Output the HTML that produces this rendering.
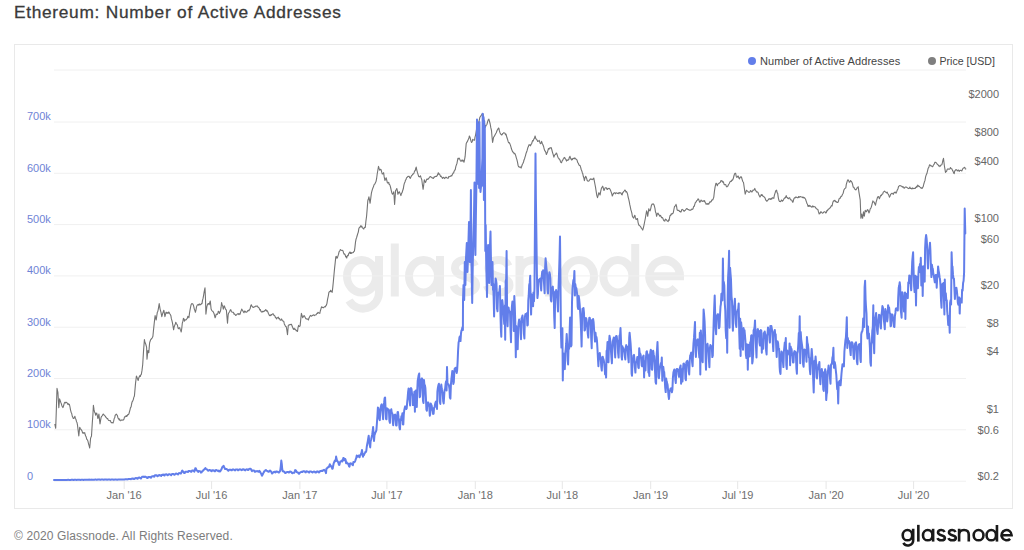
<!DOCTYPE html>
<html><head><meta charset="utf-8"><title>Ethereum: Number of Active Addresses</title>
<style>
html,body{margin:0;padding:0;background:#fff;}
body{width:1024px;height:550px;position:relative;overflow:hidden;font-family:"Liberation Sans",sans-serif;}
.title{position:absolute;left:14px;top:1.4px;font-size:17.3px;line-height:22px;color:#3a3a3a;white-space:nowrap;letter-spacing:0.7px;word-spacing:0.2px;-webkit-text-stroke:0.3px #3a3a3a;}
.box{position:absolute;left:14px;top:44px;width:999px;height:465px;border:1px solid #e9e9e9;box-sizing:border-box;}
svg{position:absolute;left:0;top:0;}
.xl{position:absolute;top:488px;width:60px;text-align:center;font-size:11px;line-height:14px;color:#6e6e6e;white-space:nowrap;}
.yl{position:absolute;left:27px;font-size:11px;line-height:14px;color:#6f83d6;white-space:nowrap;}
.yr{position:absolute;right:25px;font-size:11px;line-height:14px;color:#666;text-align:right;white-space:nowrap;}
.lg{position:absolute;top:53.6px;font-size:11px;line-height:14px;color:#444;white-space:nowrap;letter-spacing:0.08px;}
.dot{position:absolute;width:8px;height:8px;border-radius:50%;top:57px;}
.wm{position:absolute;left:342.4px;top:226.4px;font-size:72px;line-height:88px;color:#ebebeb;letter-spacing:2.1px;white-space:nowrap;-webkit-text-stroke:1.1px #ebebeb;}
.foot{position:absolute;left:14px;top:528px;font-size:12px;line-height:16px;color:#7c7c7c;white-space:nowrap;letter-spacing:0.12px;}
.logo{position:absolute;right:11.5px;top:516px;font-size:24px;line-height:32px;color:#1b1b1b;white-space:nowrap;letter-spacing:0.2px;-webkit-text-stroke:0.5px #1b1b1b;}
</style></head><body>
<div class="title">Ethereum: Number of Active Addresses</div>
<div class="box"></div>
<svg width="1024" height="550" viewBox="0 0 1024 550">
<g fill="none" stroke-width="8" stroke="#ebebeb">
<ellipse cx="361.5" cy="276.25" rx="14.5" ry="16.25"/><path d="M379,256 V292 A16,16 0 0 1 349.1,300.5"/>
<path d="M394.8,243.5 V296.5"/>
<ellipse cx="423.5" cy="276.25" rx="14.5" ry="16.25"/><path d="M440,256 V296.5"/>
<path d="M475,266 C473,261.5 469,260 465,260 C459,260 455,263.5 455,268 C455,273 459,274.8 465,276.3 C471,277.8 476,280 476,285 C476,289.5 471.5,292.5 465,292.5 C459.5,292.5 455,290 453.5,285.5"/>
<path transform="translate(33.5,0)" d="M475,266 C473,261.5 469,260 465,260 C459,260 455,263.5 455,268 C455,273 459,274.8 465,276.3 C471,277.8 476,280 476,285 C476,289.5 471.5,292.5 465,292.5 C459.5,292.5 455,290 453.5,285.5"/>
<path d="M519.5,256 V296.5 M519.5,275 C519.5,265 526,260 534.5,260 C543,260 549,265 549,275 V296.5"/>
<ellipse cx="579" cy="276.25" rx="15" ry="16.25"/>
<ellipse cx="617.9" cy="276.25" rx="14.5" ry="16.25"/><path d="M635.2,244 V296.5"/>
<path d="M649.3,276.25 H680 A15.35,16.25 0 1 0 675.5,287.7"/>
</g>
<g stroke="#f0f0f0" stroke-width="1"><line x1="54" x2="966" y1="70.0" y2="70.0"/><line x1="54" x2="966" y1="122.0" y2="122.0"/><line x1="54" x2="966" y1="173.3" y2="173.3"/><line x1="54" x2="966" y1="224.6" y2="224.6"/><line x1="54" x2="966" y1="275.9" y2="275.9"/><line x1="54" x2="966" y1="327.2" y2="327.2"/><line x1="54" x2="966" y1="378.5" y2="378.5"/><line x1="54" x2="966" y1="429.8" y2="429.8"/><line x1="54" x2="966" y1="481.2" y2="481.2"/></g>
<g stroke="#e6e6e6" stroke-width="1"><line x1="124.2" x2="124.2" y1="481.2" y2="489"/><line x1="211.6" x2="211.6" y1="481.2" y2="489"/><line x1="299.9" x2="299.9" y1="481.2" y2="489"/><line x1="386.9" x2="386.9" y1="481.2" y2="489"/><line x1="475.3" x2="475.3" y1="481.2" y2="489"/><line x1="562.3" x2="562.3" y1="481.2" y2="489"/><line x1="650.7" x2="650.7" y1="481.2" y2="489"/><line x1="737.7" x2="737.7" y1="481.2" y2="489"/><line x1="826.1" x2="826.1" y1="481.2" y2="489"/><line x1="913.6" x2="913.6" y1="481.2" y2="489"/></g>
<path d="M54.8,424.0 L55.7,428.3 L56.4,407.9 L57.0,388.4 L57.9,392.3 L58.8,407.6 L59.6,398.9 L60.2,400.6 L60.7,402.2 L61.3,403.6 L61.8,405.4 L62.4,406.7 L62.9,407.6 L63.4,406.5 L64.0,404.1 L64.5,402.6 L65.1,402.2 L65.6,403.0 L66.2,402.3 L66.7,402.5 L67.3,403.2 L67.8,404.4 L68.3,403.7 L68.9,404.7 L69.4,404.3 L70.0,407.0 L70.5,409.8 L71.1,412.2 L71.7,413.5 L72.3,416.3 L72.8,417.3 L73.3,418.5 L73.8,418.5 L74.4,417.5 L74.9,416.3 L75.4,418.4 L76.0,419.6 L76.5,421.7 L77.0,422.5 L77.5,425.1 L78.2,431.0 L78.8,436.0 L79.7,427.2 L80.3,428.5 L81.0,429.4 L81.5,430.2 L82.0,430.8 L82.5,432.7 L83.1,433.3 L83.6,432.6 L84.2,433.1 L84.7,432.7 L85.2,434.8 L85.7,436.0 L86.2,437.1 L86.8,439.3 L87.4,439.8 L88.0,441.4 L88.6,444.1 L89.1,445.7 L89.7,448.0 L90.6,438.1 L91.5,436.0 L92.3,422.9 L92.9,414.9 L93.4,405.4 L94.0,409.4 L94.5,412.0 L95.1,412.9 L95.6,415.2 L96.2,413.5 L96.7,413.1 L97.3,415.3 L97.8,418.5 L98.3,417.2 L98.9,414.1 L99.4,418.9 L100.0,424.0 L100.5,420.9 L101.1,417.4 L101.6,416.3 L102.2,415.8 L102.7,414.8 L103.2,414.1 L103.8,414.4 L104.3,415.4 L104.9,415.9 L105.4,416.3 L106.0,417.6 L106.5,417.8 L107.1,418.7 L107.6,418.5 L108.2,419.7 L108.7,420.5 L109.2,420.5 L109.8,420.7 L110.3,420.5 L110.9,422.1 L111.4,422.6 L112.0,422.9 L112.5,422.6 L113.1,422.9 L113.6,421.4 L114.2,418.5 L114.7,417.8 L115.2,415.2 L115.8,414.8 L116.3,414.1 L116.9,414.9 L117.4,415.5 L118.0,418.1 L118.5,418.5 L119.1,419.9 L119.6,418.9 L120.2,420.7 L120.7,420.7 L121.2,420.4 L121.8,419.9 L122.3,420.0 L122.9,420.3 L123.4,419.9 L124.0,419.2 L124.5,416.8 L125.1,416.8 L125.6,416.8 L126.2,415.5 L126.7,416.5 L127.2,415.9 L127.8,414.6 L128.3,414.6 L128.9,413.8 L129.4,412.0 L130.0,409.8 L130.5,407.6 L131.1,406.9 L131.6,404.0 L132.1,401.9 L132.7,401.1 L133.3,399.6 L133.9,397.0 L134.4,396.3 L135.0,389.4 L135.5,383.6 L136.4,376.0 L137.0,377.3 L137.6,379.1 L138.2,380.4 L138.7,378.1 L139.2,377.1 L139.8,375.6 L140.3,376.5 L140.8,374.8 L141.3,374.5 L142.0,370.4 L142.7,364.7 L143.5,351.6 L144.4,339.6 L145.0,342.5 L145.7,344.0 L146.6,347.2 L147.0,359.2 L147.9,350.5 L148.8,352.7 L149.6,342.9 L150.2,341.0 L150.7,339.6 L151.3,339.0 L151.8,338.5 L152.4,337.5 L152.9,336.3 L153.4,331.1 L154.0,325.4 L154.5,320.7 L155.1,315.6 L155.6,317.9 L156.2,320.0 L156.7,316.4 L157.3,312.3 L157.8,311.5 L158.3,309.1 L159.2,303.6 L160.1,309.1 L161.0,312.3 L161.8,316.7 L162.7,313.4 L163.3,311.8 L163.8,310.2 L164.4,313.3 L164.9,316.7 L165.4,314.9 L166.0,312.3 L166.5,312.4 L167.1,313.4 L167.7,312.6 L168.2,313.3 L168.8,311.9 L169.3,312.8 L169.8,313.7 L170.3,314.5 L170.9,315.8 L171.4,318.9 L172.0,320.9 L172.5,323.2 L173.1,326.7 L173.6,329.8 L174.2,326.7 L174.7,325.4 L175.3,324.0 L175.8,322.2 L176.3,323.5 L176.9,324.3 L177.4,325.0 L177.9,327.5 L178.4,328.7 L179.1,328.1 L179.7,327.6 L180.2,329.4 L180.7,330.3 L181.2,332.0 L181.8,328.0 L182.3,323.2 L182.9,321.3 L183.4,318.4 L184.0,318.9 L184.5,321.1 L185.1,319.7 L185.6,320.0 L186.2,319.8 L186.7,318.9 L187.3,318.4 L187.8,316.3 L188.3,316.6 L188.9,317.8 L189.4,313.9 L190.0,310.2 L190.5,307.6 L191.1,304.7 L191.6,303.8 L192.2,303.6 L192.7,303.9 L193.2,304.7 L193.8,306.6 L194.3,309.1 L194.9,310.5 L195.4,312.3 L196.0,309.8 L196.5,306.9 L197.1,305.4 L197.6,304.7 L198.2,304.5 L198.7,305.2 L199.2,303.9 L199.8,304.7 L200.3,304.6 L200.9,304.6 L201.4,303.6 L202.0,303.6 L202.5,300.4 L203.1,298.2 L203.6,295.4 L204.2,291.6 L205.0,287.9 L205.5,299.3 L205.9,314.1 L206.8,306.9 L207.4,304.8 L208.1,303.6 L208.6,303.6 L209.2,304.7 L209.7,302.7 L210.3,301.0 L211.1,309.1 L211.8,310.5 L212.4,311.2 L212.9,311.3 L213.5,312.4 L214.0,313.4 L214.5,315.3 L215.1,317.8 L215.6,316.5 L216.2,314.1 L216.7,314.2 L217.2,314.5 L217.8,313.5 L218.3,311.2 L218.9,311.7 L219.4,313.4 L220.0,312.1 L220.5,311.2 L221.1,307.2 L221.6,302.5 L222.1,304.9 L222.7,305.8 L223.3,309.1 L224.2,305.8 L224.9,307.3 L225.5,309.1 L226.4,310.2 L226.9,316.2 L227.5,323.2 L228.2,314.5 L228.7,312.8 L229.2,312.3 L229.7,311.5 L230.3,310.0 L230.8,309.7 L231.3,311.2 L231.9,312.1 L232.5,312.3 L233.1,312.2 L233.6,312.8 L234.1,314.2 L234.7,314.1 L235.2,314.7 L235.7,315.4 L236.2,315.2 L236.8,314.5 L237.4,313.8 L238.0,314.1 L238.5,313.7 L239.1,314.6 L239.6,313.7 L240.1,314.1 L240.6,312.1 L241.2,310.6 L241.7,309.1 L242.2,309.9 L242.8,310.8 L243.4,311.9 L244.0,312.7 L244.5,311.3 L245.0,311.0 L245.6,311.9 L246.1,312.4 L246.7,311.9 L247.2,311.8 L247.8,310.6 L248.4,310.2 L248.9,310.8 L249.5,309.7 L250.1,308.8 L250.7,305.9 L251.3,304.7 L251.9,306.2 L252.6,306.9 L253.2,307.5 L253.7,307.2 L254.3,306.9 L254.9,306.8 L255.4,306.2 L256.0,306.1 L256.5,306.2 L257.0,306.1 L257.6,306.1 L258.1,307.4 L258.7,307.6 L259.2,308.1 L259.8,310.0 L260.3,309.5 L260.9,311.2 L261.4,312.0 L262.0,311.6 L262.5,312.0 L263.0,311.2 L263.6,311.7 L264.1,311.4 L264.7,310.6 L265.2,310.2 L265.8,309.6 L266.3,311.1 L266.9,310.4 L267.4,311.2 L267.9,312.0 L268.5,313.7 L269.0,314.6 L269.6,315.6 L270.2,315.1 L270.8,315.7 L271.3,314.5 L271.9,314.6 L272.4,314.0 L273.0,313.8 L273.5,314.1 L274.0,315.5 L274.5,315.5 L275.0,316.3 L275.5,317.7 L276.1,317.7 L276.6,318.9 L277.1,317.8 L277.7,317.8 L278.3,317.1 L278.9,318.7 L279.5,318.4 L280.1,320.0 L280.6,320.1 L281.1,320.0 L281.6,318.9 L282.2,320.2 L282.7,320.9 L283.3,321.1 L283.8,321.5 L284.3,323.9 L284.9,325.0 L285.5,326.4 L286.2,326.5 L286.8,329.7 L287.5,334.6 L288.3,325.4 L289.0,324.8 L289.6,325.0 L290.2,324.4 L290.8,324.6 L291.4,324.3 L292.0,325.7 L292.6,327.2 L293.1,328.7 L293.6,329.4 L294.2,328.2 L294.7,329.4 L295.2,329.1 L295.7,329.7 L296.2,330.9 L296.8,330.5 L297.5,331.5 L298.0,327.7 L298.6,325.4 L299.1,326.4 L299.6,326.4 L300.1,325.9 L300.8,318.9 L301.4,313.4 L302.1,315.6 L302.7,317.8 L303.4,316.4 L304.1,315.6 L304.6,316.2 L305.1,317.2 L305.6,318.4 L306.1,318.9 L306.6,318.9 L307.1,318.9 L307.8,319.2 L308.4,320.0 L308.9,318.2 L309.4,317.2 L309.9,316.3 L310.5,315.4 L311.0,316.0 L311.6,316.2 L312.1,315.6 L312.7,315.4 L313.2,314.9 L313.8,315.0 L314.3,315.6 L314.8,315.0 L315.4,315.0 L315.9,315.0 L316.5,314.1 L317.0,313.3 L317.5,313.5 L318.0,312.3 L318.6,312.9 L319.2,313.0 L319.8,313.4 L320.3,311.0 L320.9,309.1 L321.5,306.9 L322.0,307.5 L322.5,307.2 L323.0,307.6 L323.6,307.7 L324.1,307.1 L324.7,306.6 L325.2,306.9 L325.8,305.9 L326.4,305.1 L326.9,303.6 L327.6,299.1 L328.3,296.0 L328.9,292.3 L329.5,291.5 L330.1,291.6 L330.7,290.3 L331.2,291.7 L331.7,291.4 L332.2,292.3 L332.8,287.1 L333.4,281.0 L334.0,274.5 L334.6,268.1 L335.2,262.6 L335.8,256.7 L336.3,256.4 L336.8,258.1 L337.3,258.0 L337.9,256.1 L338.5,254.4 L339.1,251.6 L339.7,251.1 L340.4,249.6 L340.9,250.1 L341.4,250.4 L341.9,250.3 L342.4,250.3 L343.0,250.9 L343.6,253.0 L344.2,254.2 L344.7,254.0 L345.2,255.0 L345.7,256.9 L346.2,256.4 L346.7,258.0 L347.2,256.2 L347.7,255.2 L348.2,255.6 L348.8,253.3 L349.3,252.9 L349.8,252.0 L350.3,253.5 L350.8,252.2 L351.3,253.5 L351.8,252.9 L352.3,252.8 L352.8,252.8 L353.3,252.6 L353.8,251.6 L354.4,251.1 L354.9,247.6 L355.5,242.1 L356.1,238.9 L356.6,237.7 L357.2,235.5 L357.7,233.8 L358.3,232.1 L358.8,228.8 L359.4,227.4 L360.1,227.0 L360.7,225.7 L361.2,227.0 L361.7,226.1 L362.2,227.2 L362.8,228.2 L363.3,228.7 L363.8,229.0 L364.3,227.6 L364.8,227.2 L365.3,227.4 L365.9,221.3 L366.6,216.0 L367.2,208.6 L367.8,200.7 L368.3,199.3 L368.9,196.9 L369.5,199.9 L370.1,203.3 L370.8,197.9 L371.4,193.1 L371.9,191.2 L372.4,189.4 L372.9,188.0 L373.5,186.6 L374.1,184.7 L374.7,184.2 L375.3,182.9 L376.0,181.6 L376.6,178.7 L377.2,174.0 L377.9,170.0 L378.5,166.4 L379.2,168.7 L379.8,170.2 L380.4,169.3 L381.1,169.7 L381.7,172.2 L382.3,174.0 L383.0,173.8 L383.6,172.7 L384.2,176.9 L384.9,180.4 L385.5,179.1 L386.2,177.8 L386.8,180.3 L387.4,182.9 L388.1,182.9 L388.7,182.4 L389.2,184.5 L389.7,184.6 L390.2,185.9 L390.7,188.0 L391.3,190.6 L391.9,193.0 L392.5,194.3 L393.2,193.1 L393.8,191.8 L394.6,204.5 L395.1,197.4 L395.6,190.5 L396.2,189.9 L396.8,188.5 L397.4,190.9 L397.9,194.3 L398.4,193.1 L398.9,192.1 L399.4,191.8 L399.9,193.2 L400.4,194.0 L400.9,195.6 L401.5,193.4 L402.1,192.6 L402.7,190.5 L403.3,188.8 L403.9,185.1 L404.5,182.9 L405.0,182.0 L405.5,180.2 L406.0,179.7 L406.5,177.8 L407.0,177.6 L407.5,176.8 L408.0,176.3 L408.6,176.5 L409.1,176.3 L409.7,177.7 L410.3,178.3 L410.9,177.1 L411.5,175.7 L412.1,175.3 L412.6,174.4 L413.1,173.7 L413.6,173.9 L414.1,172.7 L414.7,170.7 L415.2,170.8 L415.7,168.5 L416.2,167.1 L416.8,170.1 L417.5,172.7 L418.1,174.6 L418.7,176.5 L419.3,176.9 L419.9,176.6 L420.5,175.8 L421.1,177.9 L421.8,179.8 L422.4,184.5 L423.1,189.3 L423.7,185.0 L424.3,179.8 L425.0,181.8 L425.6,182.4 L426.2,180.6 L426.9,179.1 L427.4,179.3 L427.9,179.5 L428.4,178.5 L428.9,178.3 L429.5,177.2 L430.1,176.7 L430.7,176.5 L431.3,177.4 L431.9,177.7 L432.5,177.8 L433.0,178.5 L433.5,178.2 L434.0,177.0 L434.5,177.3 L435.0,176.6 L435.5,176.5 L436.0,176.2 L436.5,176.5 L437.1,175.6 L437.7,174.6 L438.3,172.7 L438.9,174.3 L439.5,174.0 L440.1,175.3 L440.6,176.6 L441.1,176.2 L441.6,177.0 L442.1,177.8 L442.6,178.3 L443.2,177.3 L443.7,177.5 L444.2,178.3 L444.8,178.6 L445.4,177.3 L445.9,177.3 L446.5,177.4 L447.1,178.1 L447.7,178.3 L448.2,178.2 L448.8,176.5 L449.3,176.7 L449.8,176.5 L450.3,176.2 L450.8,176.1 L451.3,175.4 L451.8,175.8 L452.4,174.6 L453.1,173.1 L453.6,173.0 L454.2,171.0 L454.7,170.4 L455.3,169.4 L455.8,166.6 L456.4,164.9 L457.0,163.2 L457.9,158.4 L458.5,158.9 L459.0,158.0 L459.6,158.9 L460.2,160.3 L460.8,161.1 L461.4,161.1 L461.9,160.0 L462.4,161.1 L462.9,160.0 L463.4,160.8 L464.0,162.2 L464.5,159.9 L465.1,156.7 L465.6,150.6 L466.2,143.6 L466.8,142.2 L467.3,141.8 L467.9,140.3 L468.4,139.2 L468.9,138.0 L469.4,136.0 L470.0,137.2 L470.5,139.3 L471.1,141.4 L471.6,142.5 L472.2,141.7 L472.7,139.3 L473.3,139.9 L473.9,140.1 L474.5,140.3 L475.0,137.1 L475.5,135.3 L476.0,132.7 L476.5,129.7 L477.1,127.3 L477.7,125.8 L478.2,123.9 L478.8,121.8 L479.3,120.1 L479.8,117.6 L480.4,116.4 L480.9,115.9 L481.4,115.1 L481.9,114.2 L482.5,113.6 L483.2,114.2 L483.7,118.7 L484.3,121.8 L484.8,124.8 L485.4,127.3 L485.9,125.5 L486.5,125.1 L487.0,124.2 L487.6,121.8 L488.2,119.9 L488.9,119.2 L489.5,121.3 L490.2,124.0 L490.8,127.7 L491.5,130.5 L492.0,136.7 L492.6,142.5 L493.1,139.9 L493.6,137.1 L494.3,136.3 L495.0,134.9 L495.6,133.7 L496.3,132.7 L496.8,131.3 L497.3,130.0 L497.8,129.4 L498.3,128.1 L498.9,128.3 L499.4,130.9 L500.0,132.7 L500.5,133.9 L501.0,134.3 L501.5,134.9 L502.1,134.7 L502.7,133.5 L503.2,133.2 L503.8,132.7 L504.4,132.9 L505.0,133.2 L505.5,134.8 L506.0,134.2 L506.5,136.0 L507.0,137.8 L507.5,139.2 L508.1,141.4 L508.6,142.7 L509.2,142.6 L509.8,143.6 L510.4,145.1 L511.0,147.1 L511.5,149.1 L512.0,150.2 L512.6,151.7 L513.1,152.3 L513.6,152.4 L514.1,153.7 L514.6,153.4 L515.2,154.2 L515.8,155.9 L516.3,157.8 L516.9,159.6 L517.5,162.2 L518.1,165.4 L518.6,166.5 L519.1,167.0 L519.6,167.2 L520.1,166.9 L520.6,167.2 L521.1,168.1 L521.8,166.0 L522.4,164.3 L523.0,163.3 L523.5,162.0 L524.0,160.0 L524.5,159.0 L525.0,157.2 L525.5,155.6 L526.1,153.2 L526.7,151.8 L527.2,150.2 L527.8,147.8 L528.4,146.6 L529.0,144.7 L529.5,145.2 L530.0,144.9 L530.5,145.8 L531.0,144.3 L531.5,144.1 L532.0,142.5 L532.6,140.6 L533.2,140.9 L533.8,139.3 L534.4,138.3 L535.1,136.0 L535.7,138.4 L536.4,139.3 L537.1,140.1 L537.7,141.4 L538.2,141.2 L538.7,140.9 L539.2,140.3 L539.8,142.2 L540.3,143.6 L541.0,143.4 L541.6,141.4 L542.3,143.4 L542.9,144.7 L543.6,146.5 L544.2,149.1 L544.8,150.8 L545.3,151.2 L545.8,152.3 L546.4,154.5 L546.9,153.3 L547.5,152.0 L548.0,150.2 L548.5,148.5 L549.0,149.2 L549.5,148.0 L550.1,148.1 L550.6,147.7 L551.2,147.6 L551.9,150.0 L552.5,152.3 L553.2,154.7 L553.9,157.1 L554.5,155.3 L555.2,154.5 L555.7,154.2 L556.2,153.0 L556.7,153.4 L557.2,154.9 L557.7,156.6 L558.2,157.8 L558.8,158.4 L559.4,159.4 L560.0,160.0 L560.5,161.7 L561.0,162.6 L561.5,162.8 L562.1,160.8 L562.6,160.7 L563.2,158.9 L563.7,158.7 L564.2,157.4 L564.8,157.8 L565.3,158.6 L565.9,159.5 L566.5,161.1 L567.1,159.9 L567.7,160.4 L568.2,160.0 L568.8,159.5 L569.4,157.2 L570.0,156.3 L570.5,158.2 L571.0,159.1 L571.5,160.0 L572.0,158.8 L572.5,159.6 L573.0,158.4 L573.6,158.4 L574.2,158.8 L574.8,157.8 L575.4,158.7 L575.9,159.2 L576.5,159.3 L577.1,160.3 L577.7,162.5 L578.3,163.2 L578.9,164.8 L579.4,165.4 L580.0,165.4 L580.6,167.1 L581.2,169.5 L581.8,170.9 L582.3,172.7 L582.8,173.8 L583.3,176.3 L583.8,177.7 L584.4,180.7 L585.0,177.8 L585.7,176.3 L586.2,177.3 L586.7,178.6 L587.2,180.7 L587.7,180.8 L588.2,181.3 L588.8,181.1 L589.3,180.5 L589.9,179.5 L590.5,178.9 L591.1,179.4 L591.7,179.0 L592.2,179.6 L592.7,179.0 L593.3,179.1 L593.8,178.1 L594.3,180.8 L594.9,184.0 L595.5,187.2 L596.2,191.6 L596.8,195.4 L597.5,197.7 L598.1,195.6 L598.8,192.7 L599.4,193.5 L600.1,194.9 L600.7,191.4 L601.4,188.3 L602.0,187.3 L602.7,186.2 L603.4,188.5 L604.0,190.5 L604.6,189.1 L605.2,187.7 L605.8,187.7 L606.3,187.7 L606.9,189.3 L607.5,189.4 L608.1,188.4 L608.7,188.6 L609.2,188.3 L609.8,188.9 L610.4,190.0 L611.0,191.6 L611.6,193.2 L612.3,196.0 L613.0,194.5 L613.6,193.3 L614.2,192.9 L614.8,192.8 L615.4,193.8 L615.9,192.9 L616.5,192.9 L617.1,193.3 L617.7,193.5 L618.3,192.8 L618.8,193.8 L619.4,192.6 L620.0,193.0 L620.6,192.7 L621.1,193.3 L621.6,194.5 L622.1,194.9 L622.6,193.0 L623.1,192.5 L623.6,191.6 L624.2,191.1 L624.8,190.0 L625.4,190.5 L626.0,192.1 L626.5,191.5 L627.1,192.7 L627.6,194.1 L628.1,197.0 L628.7,199.2 L629.2,201.3 L629.8,204.7 L630.3,206.9 L630.9,209.8 L631.4,211.3 L631.9,213.4 L632.4,216.3 L633.1,217.6 L633.7,218.1 L634.3,216.3 L634.8,215.2 L635.5,217.9 L636.1,219.6 L636.8,219.0 L637.5,218.5 L638.1,222.6 L638.8,225.1 L639.4,225.2 L640.1,226.2 L640.7,226.8 L641.4,228.3 L642.0,228.8 L642.7,230.1 L643.3,228.1 L644.0,225.1 L644.6,222.0 L645.3,218.5 L646.0,214.4 L646.6,210.9 L647.2,212.9 L647.7,216.3 L648.2,212.8 L648.8,208.7 L649.4,210.6 L650.1,210.9 L650.8,208.3 L651.4,205.4 L652.1,204.0 L652.7,204.3 L653.2,203.9 L653.7,204.3 L654.2,205.4 L654.9,208.1 L655.5,212.0 L656.1,213.3 L656.6,216.3 L657.3,213.9 L658.0,213.1 L658.6,214.4 L659.3,215.2 L659.8,216.3 L660.4,215.4 L661.0,216.3 L661.6,217.8 L662.2,217.5 L662.8,218.1 L663.3,219.5 L663.8,220.6 L664.3,220.7 L664.8,221.1 L665.3,219.1 L665.8,219.6 L666.4,219.8 L667.0,220.8 L667.5,221.1 L668.1,221.6 L668.6,219.8 L669.1,220.3 L669.6,217.4 L670.2,215.2 L670.7,215.5 L671.3,213.8 L671.9,214.2 L672.6,213.4 L673.2,213.1 L673.9,209.5 L674.5,206.5 L675.0,206.1 L675.5,205.8 L676.0,204.3 L676.6,206.5 L677.1,209.8 L677.7,210.4 L678.3,210.5 L678.9,210.2 L679.5,211.4 L680.0,211.5 L680.6,212.0 L681.1,211.9 L681.6,210.0 L682.2,209.4 L682.7,209.7 L683.2,209.9 L683.7,210.9 L684.3,211.2 L684.9,210.4 L685.4,210.2 L686.0,209.3 L686.6,208.6 L687.2,208.7 L687.8,209.5 L688.3,209.6 L688.9,209.8 L689.5,210.3 L690.1,209.9 L690.7,210.2 L691.2,209.9 L691.8,209.0 L692.4,209.4 L693.0,208.8 L693.6,206.6 L694.1,206.5 L694.8,204.3 L695.5,202.2 L696.1,201.9 L696.8,200.6 L697.4,200.1 L698.1,198.9 L698.6,199.3 L699.1,200.6 L699.6,202.2 L700.1,202.1 L700.6,201.0 L701.1,200.0 L701.7,201.0 L702.3,201.4 L702.9,201.1 L703.5,200.8 L704.0,201.5 L704.6,200.6 L705.1,202.3 L705.6,202.8 L706.1,204.3 L706.7,204.1 L707.2,203.6 L707.7,204.3 L708.3,203.6 L708.8,204.1 L709.4,202.8 L710.0,201.7 L710.6,202.1 L711.2,201.5 L711.7,200.3 L712.2,199.7 L712.7,200.0 L713.2,198.8 L713.8,197.1 L714.4,191.5 L715.1,186.9 L716.0,183.2 L716.6,183.7 L717.3,185.8 L717.9,184.1 L718.6,183.6 L719.2,183.3 L719.9,182.5 L720.4,182.2 L720.9,180.6 L721.4,181.0 L721.9,180.7 L722.4,182.1 L722.9,181.4 L723.6,182.6 L724.2,184.7 L724.8,184.8 L725.3,184.6 L725.8,184.7 L726.3,186.3 L726.9,186.9 L727.4,186.4 L727.9,186.0 L728.4,184.7 L729.1,183.7 L729.7,182.5 L730.2,181.6 L730.7,181.2 L731.2,181.4 L731.9,180.1 L732.5,180.3 L733.2,178.8 L733.9,176.0 L734.4,174.3 L735.0,173.2 L735.6,173.2 L736.2,176.2 L736.9,177.5 L737.6,176.2 L738.2,176.0 L738.9,178.1 L739.5,178.8 L740.0,177.3 L740.5,177.3 L741.0,176.6 L741.6,177.5 L742.1,179.3 L742.8,181.5 L743.5,182.5 L744.3,188.0 L745.2,194.1 L745.8,192.3 L746.5,190.2 L747.2,191.0 L747.8,191.2 L748.5,192.3 L749.1,192.3 L749.8,192.1 L750.4,190.6 L750.9,190.8 L751.4,191.7 L752.0,191.9 L752.5,191.2 L753.0,190.0 L753.5,190.2 L754.1,189.9 L754.8,188.4 L755.4,190.0 L756.1,191.2 L756.8,192.1 L757.4,191.9 L758.1,192.7 L758.7,194.5 L759.4,195.9 L760.0,197.1 L760.7,195.8 L761.3,194.5 L761.8,195.5 L762.4,194.9 L762.9,196.3 L763.4,196.3 L763.9,196.8 L764.4,197.1 L765.0,197.8 L765.7,200.0 L766.2,200.4 L766.7,201.1 L767.2,201.1 L767.7,200.2 L768.2,199.9 L768.8,198.9 L769.3,199.2 L769.9,198.7 L770.5,199.3 L771.1,198.5 L771.7,199.2 L772.2,197.8 L772.7,197.7 L773.3,198.1 L773.8,198.4 L774.3,195.7 L774.8,193.9 L775.3,192.3 L775.9,190.6 L776.6,190.2 L777.1,192.6 L777.7,193.4 L778.2,197.1 L778.8,200.0 L779.4,201.4 L780.1,201.5 L780.7,201.6 L781.4,200.0 L781.9,200.4 L782.4,201.2 L782.9,200.6 L783.5,199.8 L784.1,198.6 L784.7,197.8 L785.2,197.9 L785.7,197.1 L786.2,195.6 L786.8,197.4 L787.4,197.5 L787.9,198.4 L788.5,198.7 L789.1,197.8 L789.7,197.8 L790.3,199.4 L790.8,200.0 L791.4,200.0 L791.9,200.3 L792.5,202.2 L793.0,202.2 L793.5,200.1 L794.0,198.5 L794.5,197.8 L795.1,198.0 L795.6,197.0 L796.2,197.1 L796.8,197.4 L797.4,197.8 L798.0,197.8 L798.6,196.6 L799.1,197.5 L799.7,196.7 L800.3,196.5 L800.9,196.9 L801.5,197.1 L802.0,196.9 L802.6,197.6 L803.2,197.1 L803.8,198.0 L804.4,197.6 L805.0,198.4 L805.5,199.0 L806.0,200.6 L806.5,202.2 L807.0,203.5 L807.5,204.3 L808.0,206.5 L808.6,205.5 L809.2,206.3 L809.8,205.4 L810.3,206.2 L810.9,206.3 L811.5,207.1 L812.1,206.9 L812.6,205.9 L813.2,206.9 L813.8,206.3 L814.4,206.8 L815.0,206.7 L815.6,207.6 L816.1,208.5 L816.7,208.8 L817.3,209.3 L817.9,209.6 L818.5,211.9 L819.2,214.0 L819.7,213.0 L820.2,213.2 L820.7,211.8 L821.2,211.8 L821.7,212.5 L822.2,212.9 L822.8,213.2 L823.4,212.7 L824.0,211.8 L824.6,211.8 L825.2,212.1 L825.7,212.9 L826.3,212.7 L826.9,210.5 L827.5,210.7 L828.1,209.3 L828.6,209.3 L829.2,208.5 L829.9,208.0 L830.5,207.4 L831.0,206.3 L831.5,205.6 L832.1,205.9 L832.7,202.9 L833.4,200.9 L833.9,201.1 L834.4,200.4 L834.9,200.2 L835.6,201.7 L836.2,201.5 L836.9,202.5 L837.5,202.4 L838.2,202.0 L838.8,199.8 L839.3,198.4 L839.8,198.1 L840.4,198.1 L840.9,196.4 L841.4,196.5 L841.9,195.9 L842.5,194.3 L843.2,193.2 L843.8,190.3 L844.5,188.9 L845.1,188.4 L845.8,187.8 L846.3,184.3 L846.9,182.3 L847.4,180.7 L848.0,179.7 L848.6,180.6 L849.3,182.3 L849.9,182.0 L850.6,180.6 L851.3,181.3 L851.9,182.3 L852.6,184.3 L853.2,187.1 L853.9,187.2 L854.5,188.9 L855.2,189.3 L855.8,190.0 L856.5,189.1 L857.1,187.8 L857.7,187.6 L858.2,186.7 L858.8,191.3 L859.3,194.3 L860.2,199.8 L860.9,218.3 L861.7,214.0 L862.6,218.3 L863.5,211.8 L864.3,216.2 L865.2,210.3 L865.9,211.6 L866.5,211.8 L867.1,210.2 L867.6,209.6 L868.3,210.6 L868.9,212.9 L869.6,211.4 L870.2,208.9 L870.9,208.2 L871.5,206.3 L872.2,203.6 L872.9,200.9 L873.5,202.0 L874.1,202.0 L874.8,203.7 L875.5,205.2 L876.1,202.1 L876.8,199.8 L877.4,197.6 L878.1,196.5 L878.7,196.7 L879.4,198.7 L880.0,197.3 L880.7,195.4 L881.4,195.6 L882.0,194.3 L882.7,194.0 L883.3,192.2 L884.0,191.6 L884.6,191.1 L885.3,191.9 L885.9,192.2 L886.6,192.9 L887.2,192.2 L887.9,193.8 L888.5,194.3 L889.4,197.2 L890.1,195.9 L890.7,194.3 L891.4,193.6 L892.0,193.2 L892.7,193.8 L893.4,194.3 L894.0,192.7 L894.7,192.2 L895.3,192.1 L896.0,193.2 L896.6,191.9 L897.3,190.0 L897.9,189.0 L898.6,186.3 L899.2,186.0 L899.9,185.6 L900.4,185.7 L900.9,185.8 L901.4,186.3 L901.9,186.3 L902.4,187.1 L902.9,186.7 L903.5,187.0 L904.1,188.3 L904.7,187.8 L905.3,187.0 L905.9,187.0 L906.4,187.1 L907.0,187.6 L907.6,187.9 L908.2,188.4 L908.8,188.6 L909.3,188.2 L909.9,187.1 L910.5,188.5 L911.1,188.5 L911.7,188.9 L912.2,187.9 L912.8,188.7 L913.4,188.4 L914.0,188.5 L914.6,188.4 L915.2,188.4 L915.7,187.3 L916.2,187.4 L916.7,186.3 L917.2,186.8 L917.7,185.1 L918.2,185.6 L918.8,186.4 L919.4,186.4 L920.0,187.1 L920.5,187.4 L921.1,188.3 L921.7,187.8 L922.2,188.3 L922.7,187.3 L923.2,186.7 L923.8,184.0 L924.3,182.3 L925.0,180.4 L925.6,176.9 L926.3,174.7 L926.9,173.6 L927.6,170.7 L928.2,168.2 L928.9,167.1 L929.5,164.9 L930.2,165.1 L930.9,166.0 L931.5,165.9 L932.2,166.6 L932.8,166.6 L933.5,164.9 L934.1,164.4 L934.8,162.3 L935.4,162.2 L936.1,162.7 L936.8,163.4 L937.4,164.5 L938.1,164.8 L938.7,166.0 L939.4,165.7 L940.0,166.6 L940.7,165.3 L941.3,164.9 L941.9,164.7 L942.4,162.7 L943.0,159.8 L943.5,158.3 L944.4,166.0 L944.9,168.8 L945.5,172.5 L946.0,171.4 L946.6,171.4 L947.2,169.4 L947.9,168.8 L948.5,169.1 L949.2,169.3 L949.8,168.8 L950.5,167.5 L951.1,168.8 L951.8,168.8 L952.5,170.4 L953.1,171.4 L953.7,173.1 L954.2,173.6 L954.7,171.1 L955.3,170.3 L955.9,169.6 L956.6,169.7 L957.3,170.9 L957.9,170.3 L958.6,170.1 L959.2,171.4 L959.9,170.5 L960.5,170.3 L961.2,170.6 L961.8,171.0 L962.5,169.2 L963.1,168.2 L963.7,167.9 L964.2,167.5 L964.8,167.3 L965.3,168.8 L966.2,169.3" fill="none" stroke="#747474" stroke-width="1.1" stroke-linejoin="round"/>
<path d="M54.0,480.0 L54.5,480.0 L55.0,479.9 L55.4,480.0 L55.9,480.0 L56.4,480.1 L56.9,480.1 L57.4,480.0 L57.8,480.0 L58.3,479.9 L58.8,480.0 L59.3,480.0 L59.8,480.1 L60.2,480.1 L60.7,480.0 L61.2,479.9 L61.7,479.9 L62.2,479.9 L62.6,479.9 L63.1,480.0 L63.6,480.0 L64.1,479.9 L64.6,479.9 L65.1,479.9 L65.5,479.9 L66.0,479.9 L66.5,480.0 L67.0,480.0 L67.5,479.9 L67.9,479.8 L68.4,479.8 L68.9,479.9 L69.4,479.9 L69.9,480.0 L70.3,480.0 L70.8,479.9 L71.3,479.8 L71.8,479.8 L72.3,479.8 L72.7,479.8 L73.2,479.9 L73.7,480.0 L74.2,479.8 L74.7,479.8 L75.1,479.8 L75.6,479.8 L76.1,479.8 L76.6,479.9 L77.1,479.9 L77.5,479.8 L78.0,479.8 L78.5,479.8 L79.0,479.8 L79.5,479.8 L79.9,479.9 L80.4,479.9 L80.9,479.8 L81.4,479.7 L81.9,479.7 L82.3,479.7 L82.8,479.7 L83.3,479.9 L83.8,479.9 L84.3,479.7 L84.8,479.7 L85.2,479.7 L85.7,479.7 L86.2,479.7 L86.7,479.8 L87.2,479.8 L87.6,479.7 L88.1,479.7 L88.6,479.7 L89.1,479.6 L89.6,479.7 L90.0,479.8 L90.5,479.8 L91.0,479.7 L91.5,479.7 L92.0,479.6 L92.4,479.7 L92.9,479.7 L93.4,479.8 L93.9,479.8 L94.4,479.7 L94.8,479.6 L95.3,479.6 L95.8,479.6 L96.3,479.7 L96.8,479.7 L97.2,479.7 L97.7,479.6 L98.2,479.6 L98.7,479.6 L99.2,479.6 L99.6,479.6 L100.1,479.7 L100.6,479.7 L101.1,479.6 L101.6,479.6 L102.0,479.6 L102.5,479.6 L103.0,479.6 L103.5,479.7 L104.0,479.7 L104.5,479.6 L104.9,479.6 L105.4,479.6 L105.9,479.6 L106.4,479.6 L106.9,479.7 L107.3,479.7 L107.8,479.6 L108.3,479.6 L108.8,479.6 L109.3,479.6 L109.7,479.6 L110.2,479.7 L110.7,479.7 L111.2,479.6 L111.7,479.6 L112.1,479.6 L112.6,479.6 L113.1,479.6 L113.6,479.7 L114.1,479.7 L114.5,479.6 L115.0,479.6 L115.5,479.6 L116.0,479.6 L116.5,479.6 L116.9,479.7 L117.4,479.7 L117.9,479.6 L118.4,479.6 L118.9,479.5 L119.3,479.5 L119.8,479.6 L120.3,479.6 L120.8,479.6 L121.3,479.5 L121.8,479.4 L122.2,479.4 L122.7,479.4 L123.2,479.4 L123.7,479.5 L124.2,479.5 L124.6,479.4 L125.1,479.3 L125.6,479.3 L126.1,479.2 L126.6,479.3 L127.0,479.4 L127.5,479.3 L128.0,479.2 L128.5,479.1 L129.0,479.0 L129.4,479.1 L129.9,479.0 L130.4,479.1 L130.9,479.2 L131.4,478.8 L131.8,478.7 L132.3,478.6 L132.8,478.7 L133.3,478.6 L133.8,479.1 L134.2,479.1 L134.7,478.5 L135.2,478.4 L135.7,478.1 L136.2,478.0 L136.6,478.1 L137.1,478.6 L137.6,478.7 L138.1,477.8 L138.6,477.8 L139.0,477.5 L139.5,477.6 L140.0,477.9 L140.5,478.4 L141.0,478.4 L141.5,477.5 L141.9,477.0 L142.4,476.8 L142.9,476.8 L143.4,476.6 L143.9,477.1 L144.3,477.1 L144.8,476.6 L145.3,476.7 L145.8,476.9 L146.3,477.3 L146.7,477.5 L147.2,477.9 L147.7,478.0 L148.2,477.1 L148.7,477.0 L149.1,476.9 L149.6,476.9 L150.1,477.3 L150.6,477.6 L151.1,477.7 L151.5,476.7 L152.0,476.4 L152.5,476.3 L153.0,476.3 L153.5,476.1 L153.9,476.7 L154.4,476.5 L154.9,475.3 L155.4,475.3 L155.9,475.2 L156.3,475.2 L156.8,475.4 L157.3,476.2 L157.8,476.3 L158.3,475.5 L158.7,475.2 L159.2,475.1 L159.7,475.4 L160.2,475.2 L160.7,475.6 L161.2,475.9 L161.6,475.1 L162.1,474.8 L162.6,474.8 L163.1,474.9 L163.6,474.6 L164.0,475.3 L164.5,475.5 L165.0,474.4 L165.5,474.4 L166.0,474.3 L166.4,474.2 L166.9,474.6 L167.4,475.2 L167.9,475.3 L168.4,474.5 L168.8,474.2 L169.3,474.2 L169.8,474.3 L170.3,474.6 L170.8,474.8 L171.2,475.2 L171.7,474.3 L172.2,474.1 L172.7,474.0 L173.2,474.1 L173.6,474.0 L174.1,474.7 L174.6,474.8 L175.1,473.9 L175.6,473.9 L176.0,473.5 L176.5,473.7 L177.0,473.9 L177.5,474.1 L178.0,474.4 L178.4,473.5 L178.9,473.2 L179.4,473.1 L179.9,473.3 L180.4,473.4 L180.9,473.5 L181.3,472.8 L181.8,471.3 L182.3,470.5 L182.8,471.2 L183.3,472.0 L183.7,472.4 L184.2,473.0 L184.7,473.1 L185.2,472.0 L185.7,471.8 L186.1,471.7 L186.6,471.7 L187.1,471.7 L187.6,472.0 L188.1,471.9 L188.5,470.9 L189.0,470.9 L189.5,471.0 L190.0,471.1 L190.5,471.5 L190.9,471.7 L191.4,471.7 L191.9,470.8 L192.4,470.4 L192.9,470.4 L193.3,470.5 L193.8,471.1 L194.3,471.7 L194.8,470.4 L195.3,468.3 L195.7,468.2 L196.2,469.4 L196.7,470.4 L197.2,470.7 L197.7,471.3 L198.2,471.9 L198.6,471.0 L199.1,471.1 L199.6,471.3 L200.1,471.3 L200.6,471.6 L201.0,472.6 L201.5,472.4 L202.0,471.5 L202.5,471.1 L203.0,470.7 L203.4,470.1 L203.9,469.7 L204.4,469.4 L204.9,468.7 L205.4,468.1 L205.8,468.6 L206.3,469.1 L206.8,469.3 L207.3,469.9 L207.8,470.4 L208.2,470.8 L208.7,470.3 L209.2,470.1 L209.7,470.0 L210.2,470.2 L210.6,470.6 L211.1,470.9 L211.6,471.2 L212.1,470.3 L212.6,470.5 L213.0,470.3 L213.5,470.5 L214.0,470.4 L214.5,471.2 L215.0,471.3 L215.4,470.4 L215.9,470.1 L216.4,470.1 L216.9,470.4 L217.4,470.7 L217.9,471.0 L218.3,471.3 L218.8,470.5 L219.3,471.1 L219.8,471.5 L220.3,471.3 L220.7,470.4 L221.2,469.9 L221.7,468.6 L222.2,467.4 L222.7,466.7 L223.1,466.4 L223.6,465.8 L224.1,467.0 L224.6,468.0 L225.1,469.1 L225.5,469.0 L226.0,468.9 L226.5,469.0 L227.0,469.4 L227.5,469.8 L227.9,470.4 L228.4,470.8 L228.9,470.0 L229.4,469.8 L229.9,469.7 L230.3,469.7 L230.8,469.8 L231.3,470.3 L231.8,470.3 L232.3,469.6 L232.7,469.4 L233.2,469.4 L233.7,469.5 L234.2,469.8 L234.7,470.3 L235.1,470.4 L235.6,469.4 L236.1,469.4 L236.6,469.4 L237.1,469.5 L237.6,469.4 L238.0,470.3 L238.5,470.2 L239.0,469.6 L239.5,469.4 L240.0,469.3 L240.4,469.5 L240.9,469.6 L241.4,470.1 L241.9,470.2 L242.4,469.6 L242.8,469.3 L243.3,469.3 L243.8,469.4 L244.3,469.7 L244.8,470.2 L245.2,470.4 L245.7,469.7 L246.2,469.6 L246.7,469.3 L247.2,469.5 L247.6,469.7 L248.1,470.1 L248.6,469.9 L249.1,468.9 L249.6,468.8 L250.0,468.7 L250.5,468.7 L251.0,469.2 L251.5,470.4 L252.0,471.1 L252.4,470.4 L252.9,470.4 L253.4,470.4 L253.9,470.5 L254.4,470.9 L254.8,471.7 L255.3,471.7 L255.8,471.3 L256.3,471.2 L256.8,471.2 L257.3,471.1 L257.7,471.2 L258.2,471.6 L258.7,471.8 L259.2,470.9 L259.7,471.2 L260.1,471.8 L260.6,472.7 L261.1,473.5 L261.6,474.9 L262.1,475.7 L262.5,474.8 L263.0,473.8 L263.5,472.7 L264.0,471.9 L264.5,471.1 L264.9,470.8 L265.4,470.4 L265.9,470.0 L266.4,470.5 L266.9,470.9 L267.3,471.0 L267.8,471.4 L268.3,471.7 L268.8,471.8 L269.3,471.2 L269.7,470.7 L270.2,470.6 L270.7,471.1 L271.2,471.7 L271.7,472.7 L272.1,473.5 L272.6,473.0 L273.1,472.5 L273.6,472.2 L274.1,471.9 L274.5,471.8 L275.0,472.3 L275.5,472.4 L276.0,471.6 L276.5,471.5 L277.0,471.6 L277.4,471.8 L277.9,471.9 L278.4,472.4 L278.9,472.6 L279.4,471.6 L279.8,471.6 L280.3,470.2 L280.8,466.3 L281.3,460.6 L281.8,464.2 L282.2,469.0 L282.7,471.2 L283.2,471.3 L283.7,471.5 L284.2,471.7 L284.6,472.0 L285.1,473.0 L285.6,473.1 L286.1,472.4 L286.6,472.3 L287.0,472.0 L287.5,471.9 L288.0,472.2 L288.5,472.5 L289.0,472.5 L289.4,471.8 L289.9,471.6 L290.4,471.6 L290.9,471.8 L291.4,472.1 L291.8,472.9 L292.3,473.2 L292.8,472.7 L293.3,472.7 L293.8,472.7 L294.2,472.8 L294.7,471.6 L295.2,470.1 L295.7,470.3 L296.2,470.9 L296.7,472.1 L297.1,472.2 L297.6,472.4 L298.1,472.7 L298.6,473.5 L299.1,473.7 L299.5,473.0 L300.0,472.7 L300.5,472.4 L301.0,471.9 L301.5,471.9 L301.9,471.7 L302.4,472.0 L302.9,471.5 L303.4,471.3 L303.9,471.2 L304.3,471.2 L304.8,471.6 L305.3,472.2 L305.8,472.4 L306.3,471.4 L306.7,471.6 L307.2,471.4 L307.7,471.7 L308.2,471.8 L308.7,472.2 L309.1,472.6 L309.6,471.6 L310.1,471.6 L310.6,471.5 L311.1,471.5 L311.5,471.9 L312.0,472.2 L312.5,472.5 L313.0,471.9 L313.5,471.8 L314.0,471.5 L314.4,471.6 L314.9,471.9 L315.4,472.5 L315.9,472.6 L316.4,471.8 L316.8,471.5 L317.3,471.7 L317.8,471.5 L318.3,471.7 L318.8,472.5 L319.2,472.4 L319.7,471.5 L320.2,471.1 L320.7,471.0 L321.2,470.9 L321.6,470.8 L322.1,470.9 L322.6,471.0 L323.1,470.2 L323.6,470.0 L324.0,469.8 L324.5,470.3 L325.0,470.7 L325.5,471.6 L326.0,473.1 L326.4,468.8 L326.9,468.6 L327.4,467.7 L327.9,467.2 L328.4,467.2 L328.8,467.2 L329.3,466.0 L329.8,464.3 L330.3,465.2 L330.8,466.4 L331.2,466.2 L331.7,466.5 L332.2,468.8 L332.7,468.7 L333.2,465.7 L333.7,463.3 L334.1,462.3 L334.6,461.0 L335.1,460.3 L335.6,461.2 L336.1,456.6 L336.5,458.5 L337.0,460.8 L337.5,461.1 L338.0,462.0 L338.5,463.0 L338.9,464.7 L339.4,464.9 L339.9,462.7 L340.4,461.4 L340.9,461.4 L341.3,461.0 L341.8,460.5 L342.3,461.5 L342.8,460.6 L343.3,458.0 L343.7,458.0 L344.2,459.1 L344.7,460.3 L345.2,459.0 L345.7,460.2 L346.1,463.2 L346.6,462.2 L347.1,463.1 L347.6,463.6 L348.1,463.6 L348.5,464.5 L349.0,466.2 L349.5,466.6 L350.0,463.6 L350.5,463.2 L350.9,463.5 L351.4,463.7 L351.9,463.7 L352.4,464.9 L352.9,465.2 L353.4,462.0 L353.8,462.3 L354.3,462.0 L354.8,461.8 L355.3,460.6 L355.8,459.2 L356.2,458.2 L356.7,455.6 L357.2,456.7 L357.7,456.7 L358.2,456.2 L358.6,455.6 L359.1,456.4 L359.6,457.2 L360.1,455.2 L360.6,455.0 L361.0,453.9 L361.5,452.7 L362.0,450.0 L362.5,454.0 L363.0,456.7 L363.4,454.9 L363.9,455.0 L364.4,453.8 L364.9,452.9 L365.4,451.9 L365.8,452.1 L366.3,450.8 L366.8,446.5 L367.3,443.8 L367.8,441.1 L368.2,438.6 L368.7,435.8 L369.2,441.2 L369.7,444.9 L370.2,447.4 L370.6,441.4 L371.1,439.8 L371.6,437.3 L372.1,434.9 L372.6,432.0 L373.1,427.1 L373.5,433.4 L374.0,440.9 L374.5,435.0 L375.0,433.8 L375.5,432.2 L375.9,431.6 L376.4,430.1 L376.9,423.2 L377.4,416.3 L377.9,407.5 L378.3,408.1 L378.8,410.9 L379.3,418.9 L379.8,420.1 L380.3,411.6 L380.7,407.7 L381.2,405.1 L381.7,404.4 L382.2,407.5 L382.7,413.9 L383.1,419.2 L383.6,406.1 L384.1,402.7 L384.6,398.1 L385.1,397.5 L385.5,407.1 L386.0,419.0 L386.5,419.3 L387.0,408.3 L387.5,409.7 L387.9,409.5 L388.4,409.2 L388.9,410.1 L389.4,420.7 L389.9,422.9 L390.3,412.6 L390.8,410.7 L391.3,409.3 L391.8,413.2 L392.3,413.3 L392.8,421.6 L393.2,425.2 L393.7,417.8 L394.2,414.9 L394.7,415.4 L395.2,414.5 L395.6,418.9 L396.1,425.4 L396.6,425.5 L397.1,417.0 L397.6,412.2 L398.0,412.0 L398.5,417.2 L399.0,420.6 L399.5,427.7 L400.0,429.4 L400.4,419.4 L400.9,420.4 L401.4,416.2 L401.9,416.8 L402.4,413.3 L402.8,424.3 L403.3,424.5 L403.8,414.3 L404.3,410.0 L404.8,407.6 L405.2,406.4 L405.7,407.1 L406.2,409.1 L406.7,408.3 L407.2,402.2 L407.6,398.3 L408.1,391.9 L408.6,388.4 L409.1,395.0 L409.6,400.2 L410.1,405.5 L410.5,389.0 L411.0,388.1 L411.5,389.0 L412.0,393.6 L412.5,395.9 L412.9,405.1 L413.4,405.1 L413.9,397.5 L414.4,391.7 L414.9,411.7 L415.3,392.8 L415.8,390.5 L416.3,400.5 L416.8,407.0 L417.3,389.7 L417.7,380.8 L418.2,378.0 L418.7,375.0 L419.2,373.5 L419.7,397.3 L420.1,396.1 L420.6,385.6 L421.1,380.7 L421.6,378.5 L422.1,378.4 L422.5,387.8 L423.0,400.7 L423.5,403.0 L424.0,380.1 L424.5,386.0 L424.9,385.1 L425.4,388.2 L425.9,397.7 L426.4,409.8 L426.9,410.6 L427.3,402.5 L427.8,405.3 L428.3,402.5 L428.8,404.9 L429.3,407.1 L429.8,415.7 L430.2,414.0 L430.7,403.5 L431.2,404.6 L431.7,405.7 L432.2,409.7 L432.6,410.5 L433.1,413.9 L433.6,413.7 L434.1,407.6 L434.6,407.4 L435.0,404.5 L435.5,402.4 L436.0,401.5 L436.5,404.2 L437.0,409.0 L437.4,391.7 L437.9,387.6 L438.4,385.2 L438.9,383.8 L439.4,388.6 L439.8,401.3 L440.3,403.9 L440.8,388.3 L441.3,384.6 L441.8,389.0 L442.2,391.8 L442.7,392.8 L443.2,401.6 L443.7,403.5 L444.2,395.2 L444.6,390.0 L445.1,389.1 L445.6,383.9 L446.1,381.2 L446.6,390.5 L447.0,366.9 L447.5,383.9 L448.0,384.2 L448.5,384.3 L449.0,385.8 L449.5,389.2 L449.9,397.6 L450.4,398.7 L450.9,384.9 L451.4,378.9 L451.9,374.8 L452.3,370.9 L452.8,371.4 L453.3,383.9 L453.8,382.2 L454.3,372.2 L454.7,368.6 L455.2,368.7 L455.7,367.7 L456.2,370.9 L456.7,373.1 L457.1,370.6 L457.6,362.3 L458.1,350.2 L458.6,342.4 L459.1,340.6 L459.5,337.2 L460.0,336.2 L460.5,341.1 L461.0,333.2 L461.5,330.5 L461.9,329.7 L462.4,327.3 L462.9,330.0 L463.0,300.0 L463.5,285.0 L464.2,300.0 L464.8,262.0 L465.4,285.0 L466.0,258.0 L466.8,243.0 L467.5,272.0 L468.2,250.0 L469.0,222.0 L469.8,262.0 L470.4,240.0 L470.9,190.0 L471.5,265.0 L472.2,303.0 L472.8,262.0 L473.4,240.0 L474.0,215.0 L474.5,182.5 L475.0,235.0 L475.4,255.0 L475.9,215.0 L476.4,185.0 L477.0,119.5 L477.4,178.0 L477.9,126.0 L478.3,184.0 L478.7,124.0 L479.1,188.0 L479.4,122.0 L479.9,180.0 L480.5,192.0 L481.2,185.0 L481.9,170.0 L482.4,158.0 L482.7,113.7 L483.1,186.0 L483.5,117.0 L483.9,200.0 L484.2,121.0 L484.5,190.0 L484.8,126.0 L485.3,251.0 L485.7,225.0 L486.2,262.0 L487.0,297.0 L487.6,262.0 L488.1,245.0 L488.7,272.0 L489.2,283.0 L489.8,250.0 L490.5,231.5 L491.0,262.0 L491.5,285.0 L492.0,270.0 L492.5,262.0 L493.0,290.0 L493.2,283.7 L493.7,299.8 L494.1,316.5 L494.6,289.8 L495.1,286.9 L495.6,278.6 L496.1,280.5 L496.5,283.4 L497.0,308.3 L497.5,311.3 L498.0,295.4 L498.5,292.4 L498.9,292.6 L499.4,293.6 L499.9,285.9 L500.4,312.4 L500.9,329.8 L501.3,336.8 L501.8,301.3 L502.3,300.1 L502.8,305.2 L503.3,308.0 L503.7,315.6 L504.2,324.0 L504.7,305.5 L505.2,339.7 L505.7,281.1 L506.2,278.9 L506.6,251.0 L507.1,314.1 L507.6,326.3 L508.1,307.5 L508.6,307.7 L509.0,310.7 L509.5,312.1 L510.0,311.6 L510.5,330.0 L511.0,342.3 L511.4,314.6 L511.9,306.7 L512.4,301.6 L512.9,305.9 L513.4,313.9 L513.8,330.9 L514.3,296.1 L514.8,307.0 L515.3,323.1 L515.8,357.2 L516.2,326.0 L516.7,337.7 L517.2,342.3 L517.7,349.2 L518.2,327.7 L518.6,323.2 L519.1,319.6 L519.6,322.1 L520.1,323.0 L520.6,333.6 L521.0,339.2 L521.5,318.5 L522.0,317.5 L522.5,315.5 L523.0,322.1 L523.4,320.7 L523.9,333.6 L524.4,338.4 L524.9,317.0 L525.4,314.2 L525.9,314.0 L526.3,315.7 L526.8,313.2 L527.3,325.5 L527.8,325.0 L528.3,300.3 L528.7,295.7 L529.2,284.9 L529.7,282.9 L530.2,275.7 L530.7,302.5 L531.1,314.6 L531.6,294.4 L532.1,294.9 L532.6,297.7 L533.1,306.3 L533.5,292.4 L534.0,301.3 L534.5,287.5 L535.0,218.9 L535.5,153.5 L535.9,198.9 L536.4,235.8 L536.9,273.4 L537.4,298.1 L537.9,294.1 L538.3,283.0 L538.8,279.9 L539.3,279.3 L539.8,281.1 L540.3,278.6 L540.7,284.6 L541.2,290.4 L541.7,276.9 L542.2,271.5 L542.7,273.5 L543.1,270.3 L543.6,277.8 L544.1,284.3 L544.6,293.2 L545.1,268.1 L545.6,258.3 L546.0,263.2 L546.5,268.8 L547.0,273.0 L547.5,289.3 L548.0,293.4 L548.4,278.1 L548.9,276.2 L549.4,272.2 L549.9,274.2 L550.4,278.9 L550.8,299.8 L551.3,301.5 L551.8,292.0 L552.3,287.8 L552.8,286.6 L553.2,292.6 L553.7,292.8 L554.2,316.8 L554.7,328.1 L555.2,291.4 L555.6,296.4 L556.1,290.0 L556.6,291.9 L557.1,296.9 L557.6,304.5 L558.0,311.4 L558.5,288.0 L559.0,274.4 L559.5,258.3 L560.0,236.5 L560.4,272.6 L560.9,331.2 L561.4,347.6 L561.9,329.6 L562.4,328.3 L562.8,380.5 L563.3,353.3 L563.8,354.0 L564.3,368.1 L564.8,369.2 L565.3,352.9 L565.7,349.3 L566.2,343.2 L566.7,333.9 L567.2,343.2 L567.7,360.6 L568.1,364.5 L568.6,344.6 L569.1,348.8 L569.6,332.6 L570.1,317.5 L570.5,324.0 L571.0,346.5 L571.5,345.2 L572.0,302.4 L572.5,289.0 L572.9,284.0 L573.4,279.9 L573.9,281.4 L574.4,270.9 L574.9,295.4 L575.3,284.1 L575.8,288.0 L576.3,287.9 L576.8,291.4 L577.3,295.4 L577.7,306.8 L578.2,309.1 L578.7,296.0 L579.2,299.4 L579.7,304.9 L580.1,311.3 L580.6,319.6 L581.1,331.0 L581.6,346.6 L582.1,317.3 L582.5,308.9 L583.0,308.6 L583.5,308.0 L584.0,313.2 L584.5,330.5 L585.0,330.0 L585.4,322.0 L585.9,317.9 L586.4,319.0 L586.9,323.6 L587.4,328.8 L587.8,333.8 L588.3,337.6 L588.8,322.8 L589.3,317.8 L589.8,318.0 L590.2,320.8 L590.7,322.3 L591.2,338.4 L591.7,348.2 L592.2,319.7 L592.6,322.4 L593.1,318.9 L593.6,322.1 L594.1,329.9 L594.6,336.0 L595.0,341.6 L595.5,332.7 L596.0,338.0 L596.5,337.2 L597.0,340.9 L597.4,347.7 L597.9,357.5 L598.4,366.2 L598.9,354.8 L599.4,355.2 L599.8,353.0 L600.3,358.1 L600.8,359.8 L601.3,367.1 L601.8,370.6 L602.3,357.0 L602.7,356.7 L603.2,358.7 L603.7,359.8 L604.2,363.0 L604.7,369.0 L605.1,374.3 L605.6,365.0 L606.1,377.6 L606.6,351.0 L607.1,349.9 L607.5,342.0 L608.0,361.9 L608.5,362.3 L609.0,343.4 L609.5,335.8 L609.9,337.9 L610.4,341.4 L610.9,350.0 L611.4,357.1 L611.9,363.3 L612.3,349.8 L612.8,342.0 L613.3,339.2 L613.8,337.5 L614.3,340.6 L614.7,349.3 L615.2,357.4 L615.7,337.6 L616.2,336.0 L616.7,336.2 L617.1,339.9 L617.6,341.5 L618.1,353.0 L618.6,357.6 L619.1,343.5 L619.5,335.6 L620.0,335.6 L620.5,328.1 L621.0,341.1 L621.5,356.5 L622.0,359.6 L622.4,346.2 L622.9,348.5 L623.4,348.1 L623.9,350.3 L624.4,352.4 L624.8,356.2 L625.3,359.4 L625.8,347.2 L626.3,345.1 L626.8,347.9 L627.2,346.7 L627.7,350.6 L628.2,357.4 L628.7,362.3 L629.2,337.5 L629.6,332.7 L630.1,338.0 L630.6,343.5 L631.1,352.0 L631.6,373.6 L632.0,375.7 L632.5,362.9 L633.0,360.6 L633.5,355.4 L634.0,354.9 L634.4,358.9 L634.9,367.6 L635.4,372.6 L635.9,362.2 L636.4,362.1 L636.8,361.1 L637.3,357.0 L637.8,361.3 L638.3,367.5 L638.8,368.1 L639.2,348.2 L639.7,353.1 L640.2,353.5 L640.7,355.0 L641.2,359.9 L641.7,365.5 L642.1,366.3 L642.6,360.0 L643.1,356.4 L643.6,355.5 L644.1,377.6 L644.5,361.0 L645.0,370.7 L645.5,370.4 L646.0,357.2 L646.5,351.7 L646.9,351.3 L647.4,355.8 L647.9,354.5 L648.4,372.5 L648.9,371.4 L649.3,376.0 L649.8,356.6 L650.3,352.3 L650.8,349.8 L651.3,351.0 L651.7,369.2 L652.2,369.8 L652.7,354.4 L653.2,350.8 L653.7,354.4 L654.1,356.2 L654.6,362.7 L655.1,372.1 L655.6,382.2 L656.1,383.7 L656.5,356.8 L657.0,350.2 L657.5,342.0 L658.0,356.7 L658.5,376.9 L658.9,378.3 L659.4,372.2 L659.9,368.3 L660.4,365.6 L660.9,363.1 L661.4,365.0 L661.8,357.5 L662.3,380.7 L662.8,368.0 L663.3,366.9 L663.8,371.8 L664.2,372.0 L664.7,379.2 L665.2,387.6 L665.7,392.1 L666.2,378.6 L666.6,381.3 L667.1,383.1 L667.6,384.9 L668.1,390.9 L668.6,396.6 L669.0,399.0 L669.5,391.6 L670.0,390.8 L670.5,388.7 L671.0,388.4 L671.4,388.2 L671.9,392.3 L672.4,389.5 L672.9,377.9 L673.4,372.5 L673.8,371.1 L674.3,369.5 L674.8,370.7 L675.3,379.9 L675.8,383.0 L676.2,372.4 L676.7,368.9 L677.2,368.9 L677.7,369.7 L678.2,370.4 L678.6,374.8 L679.1,376.9 L679.6,369.1 L680.1,367.3 L680.6,365.4 L681.1,383.7 L681.5,369.0 L682.0,380.5 L682.5,381.5 L683.0,368.9 L683.5,363.6 L683.9,363.5 L684.4,367.5 L684.9,364.9 L685.4,378.8 L685.9,380.3 L686.3,362.4 L686.8,361.4 L687.3,360.8 L687.8,362.7 L688.3,366.3 L688.7,371.3 L689.2,374.4 L689.7,360.6 L690.2,355.6 L690.7,354.7 L691.1,352.8 L691.6,352.6 L692.1,362.1 L692.6,366.2 L693.1,350.6 L693.5,343.1 L694.0,337.9 L694.5,330.1 L695.0,321.9 L695.5,351.6 L695.9,357.0 L696.4,346.2 L696.9,344.7 L697.4,339.7 L697.9,339.3 L698.4,341.7 L698.8,350.6 L699.3,357.5 L699.8,332.7 L700.3,374.5 L700.8,330.4 L701.2,336.0 L701.7,344.3 L702.2,359.6 L702.7,362.2 L703.2,329.7 L703.6,309.6 L704.1,314.9 L704.6,321.5 L705.1,335.4 L705.6,358.7 L706.0,369.8 L706.5,348.8 L707.0,345.8 L707.5,343.8 L708.0,348.3 L708.4,350.4 L708.9,359.8 L709.4,367.2 L709.9,348.1 L710.4,345.1 L710.8,345.8 L711.3,347.1 L711.8,346.7 L712.3,357.1 L712.8,355.4 L713.2,339.2 L713.7,320.7 L714.2,307.9 L714.7,295.6 L715.2,315.5 L715.6,328.3 L716.1,334.2 L716.6,316.8 L717.1,315.8 L717.6,314.2 L718.1,314.2 L718.5,318.8 L719.0,328.2 L719.5,326.8 L720.0,315.1 L720.5,306.7 L720.9,304.1 L721.4,293.7 L721.9,299.0 L722.4,300.4 L722.9,258.5 L723.3,283.5 L723.8,281.9 L724.3,285.6 L724.8,303.6 L725.3,311.0 L725.7,330.5 L726.2,338.3 L726.7,319.4 L727.2,352.8 L727.7,296.0 L728.1,277.1 L728.6,268.1 L729.1,250.8 L729.6,327.7 L730.1,267.7 L730.5,273.5 L731.0,279.7 L731.5,296.0 L732.0,301.1 L732.5,323.0 L732.9,330.8 L733.4,314.5 L733.9,307.3 L734.4,304.6 L734.9,298.7 L735.3,311.4 L735.8,323.5 L736.3,326.9 L736.8,312.1 L737.3,311.8 L737.8,309.8 L738.2,309.1 L738.7,303.4 L739.2,332.2 L739.7,348.7 L740.2,318.7 L740.6,355.9 L741.1,322.2 L741.6,327.4 L742.1,329.9 L742.6,344.4 L743.0,349.8 L743.5,327.9 L744.0,330.4 L744.5,330.2 L745.0,335.9 L745.4,340.9 L745.9,354.6 L746.4,358.1 L746.9,344.3 L747.4,345.8 L747.8,369.8 L748.3,344.7 L748.8,353.3 L749.3,356.0 L749.8,356.4 L750.2,342.2 L750.7,342.7 L751.2,335.5 L751.7,335.2 L752.2,363.6 L752.6,361.5 L753.1,354.4 L753.6,330.2 L754.1,329.4 L754.6,326.7 L755.0,320.4 L755.5,336.1 L756.0,347.2 L756.5,357.5 L757.0,338.6 L757.5,329.3 L757.9,329.0 L758.4,333.9 L758.9,331.1 L759.4,342.3 L759.9,345.4 L760.3,332.3 L760.8,330.1 L761.3,330.7 L761.8,352.8 L762.3,339.2 L762.7,345.1 L763.2,348.8 L763.7,333.2 L764.2,333.0 L764.7,331.5 L765.1,333.7 L765.6,339.3 L766.1,350.6 L766.6,354.4 L767.1,335.3 L767.5,334.2 L768.0,327.4 L768.5,330.7 L769.0,329.6 L769.5,339.6 L769.9,342.5 L770.4,325.9 L770.9,329.8 L771.4,326.1 L771.9,329.1 L772.3,332.4 L772.8,342.7 L773.3,351.1 L773.8,334.6 L774.3,331.8 L774.8,329.9 L775.2,334.9 L775.7,334.2 L776.2,346.8 L776.7,356.9 L777.2,342.1 L777.6,341.3 L778.1,343.1 L778.6,349.3 L779.1,348.7 L779.6,366.6 L780.0,371.8 L780.5,374.0 L781.0,356.6 L781.5,351.4 L782.0,353.0 L782.4,357.3 L782.9,361.3 L783.4,367.1 L783.9,351.5 L784.4,346.5 L784.8,342.4 L785.3,346.8 L785.8,338.0 L786.3,365.1 L786.8,368.9 L787.2,350.4 L787.7,354.8 L788.2,351.8 L788.7,352.4 L789.2,352.8 L789.6,343.4 L790.1,365.2 L790.6,346.6 L791.1,348.1 L791.6,349.4 L792.0,353.8 L792.5,356.0 L793.0,362.4 L793.5,362.4 L794.0,352.8 L794.5,351.1 L794.9,353.5 L795.4,351.7 L795.9,353.9 L796.4,368.4 L796.9,373.7 L797.3,353.8 L797.8,351.5 L798.3,343.9 L798.8,333.1 L799.3,336.9 L799.7,316.2 L800.2,363.3 L800.7,331.9 L801.2,339.3 L801.7,342.8 L802.1,345.7 L802.6,350.1 L803.1,364.3 L803.6,366.8 L804.1,354.0 L804.5,349.4 L805.0,350.4 L805.5,350.2 L806.0,353.7 L806.5,361.8 L806.9,336.9 L807.4,342.6 L807.9,344.4 L808.4,348.9 L808.9,357.5 L809.3,358.0 L809.8,369.6 L810.3,374.2 L810.8,360.9 L811.3,355.8 L811.7,348.9 L812.2,356.0 L812.7,363.2 L813.2,379.6 L813.7,392.5 L814.2,371.2 L814.6,360.8 L815.1,362.5 L815.6,356.5 L816.1,363.2 L816.6,377.5 L817.0,378.5 L817.5,369.4 L818.0,369.3 L818.5,364.6 L819.0,364.5 L819.4,362.0 L819.9,376.5 L820.4,384.3 L820.9,372.0 L821.4,372.6 L821.8,368.9 L822.3,373.5 L822.8,377.5 L823.3,389.4 L823.8,391.0 L824.2,372.0 L824.7,373.7 L825.2,369.2 L825.7,377.7 L826.2,400.1 L826.6,394.6 L827.1,392.3 L827.6,371.1 L828.1,370.1 L828.6,365.4 L829.0,368.6 L829.5,372.3 L830.0,378.3 L830.5,383.7 L831.0,364.9 L831.4,364.0 L831.9,363.9 L832.4,357.5 L832.9,356.0 L833.4,347.8 L833.9,367.7 L834.3,361.9 L834.8,362.3 L835.3,365.2 L835.8,370.4 L836.3,374.9 L836.7,381.6 L837.2,389.3 L837.7,386.5 L838.2,403.4 L838.7,382.1 L839.1,383.6 L839.6,380.7 L840.1,385.0 L840.6,385.3 L841.1,378.9 L841.5,373.5 L842.0,368.5 L842.5,364.2 L843.0,366.0 L843.5,366.2 L843.9,366.4 L844.4,351.7 L844.9,345.8 L845.4,340.3 L845.9,337.3 L846.3,330.2 L846.8,317.3 L847.3,348.0 L847.8,337.9 L848.3,342.3 L848.7,342.8 L849.2,341.1 L849.7,344.1 L850.2,350.4 L850.7,355.1 L851.1,344.5 L851.6,342.3 L852.1,342.3 L852.6,343.5 L853.1,348.2 L853.6,357.1 L854.0,359.0 L854.5,349.2 L855.0,344.0 L855.5,343.0 L856.0,342.3 L856.4,346.7 L856.9,361.6 L857.4,364.3 L857.9,349.9 L858.4,346.4 L858.8,344.5 L859.3,344.6 L859.8,344.0 L860.3,358.8 L860.8,362.0 L861.2,334.6 L861.7,332.0 L862.2,331.6 L862.7,329.2 L863.2,318.4 L863.6,324.7 L864.1,327.1 L864.6,287.1 L865.1,280.8 L865.6,299.5 L866.0,306.7 L866.5,313.6 L867.0,332.7 L867.5,338.5 L868.0,326.5 L868.4,336.2 L868.9,333.4 L869.4,338.6 L869.9,347.9 L870.4,362.7 L870.9,365.7 L871.3,344.9 L871.8,342.3 L872.3,330.6 L872.8,327.5 L873.3,305.3 L873.7,340.4 L874.2,353.2 L874.7,326.6 L875.2,318.8 L875.7,316.1 L876.1,312.9 L876.6,321.1 L877.1,330.5 L877.6,333.9 L878.1,324.7 L878.5,320.7 L879.0,314.8 L879.5,315.1 L880.0,316.2 L880.5,326.6 L880.9,328.5 L881.4,315.3 L881.9,312.0 L882.4,306.1 L882.9,307.3 L883.3,312.1 L883.8,319.5 L884.3,323.9 L884.8,329.2 L885.3,308.9 L885.7,310.5 L886.2,312.7 L886.7,316.8 L887.2,321.5 L887.7,317.4 L888.1,305.3 L888.6,307.6 L889.1,307.5 L889.6,312.6 L890.1,313.6 L890.6,326.3 L891.0,326.0 L891.5,315.1 L892.0,314.3 L892.5,314.9 L893.0,318.4 L893.4,322.0 L893.9,326.6 L894.4,326.9 L894.9,316.0 L895.4,312.9 L895.8,308.8 L896.3,308.2 L896.8,309.8 L897.3,309.4 L897.8,310.5 L898.2,297.5 L898.7,287.7 L899.2,285.8 L899.7,282.3 L900.2,286.7 L900.6,309.1 L901.1,312.8 L901.6,317.7 L902.1,292.2 L902.6,292.9 L903.0,296.8 L903.5,299.8 L904.0,311.4 L904.5,310.2 L905.0,292.4 L905.4,319.1 L905.9,294.3 L906.4,293.8 L906.9,294.4 L907.4,296.9 L907.8,298.1 L908.3,282.4 L908.8,283.1 L909.3,275.4 L909.8,276.0 L910.3,279.1 L910.7,285.0 L911.2,290.3 L911.7,274.5 L912.2,261.7 L912.7,256.2 L913.1,252.3 L913.6,270.5 L914.1,286.1 L914.6,292.1 L915.1,280.8 L915.5,275.8 L916.0,305.4 L916.5,278.0 L917.0,276.9 L917.5,287.5 L917.9,288.2 L918.4,274.4 L918.9,266.9 L919.4,269.7 L919.9,264.1 L920.3,272.2 L920.8,257.7 L921.3,285.4 L921.8,272.5 L922.3,266.8 L922.7,295.9 L923.2,266.3 L923.7,274.3 L924.2,280.5 L924.7,281.7 L925.1,248.4 L925.6,239.0 L926.1,235.0 L926.6,238.6 L927.1,246.0 L927.5,259.1 L928.0,268.5 L928.5,252.4 L929.0,252.1 L929.5,247.9 L930.0,242.7 L930.4,250.5 L930.9,267.7 L931.4,277.1 L931.9,264.7 L932.4,268.4 L932.8,268.7 L933.3,273.5 L933.8,275.7 L934.3,279.0 L934.8,282.3 L935.2,276.9 L935.7,274.9 L936.2,274.9 L936.7,287.7 L937.2,277.3 L937.6,277.0 L938.1,266.4 L938.6,270.6 L939.1,273.3 L939.6,277.2 L940.0,279.2 L940.5,285.6 L941.0,300.2 L941.5,307.8 L942.0,289.9 L942.4,284.1 L942.9,284.4 L943.4,283.0 L943.9,297.9 L944.4,314.5 L944.8,279.5 L945.3,299.5 L945.8,293.3 L946.3,300.3 L946.8,300.3 L947.2,311.1 L947.7,316.5 L948.2,325.0 L948.7,316.3 L949.2,318.8 L949.7,332.7 L950.1,302.9 L950.6,300.2 L951.1,304.5 L951.6,252.3 L952.1,266.7 L952.5,266.6 L953.0,274.9 L953.5,278.5 L954.0,278.9 L954.5,290.8 L954.9,299.0 L955.4,287.9 L955.9,288.3 L956.4,287.8 L956.9,291.0 L957.3,295.3 L957.8,302.5 L958.3,304.8 L958.8,297.4 L959.3,297.4 L959.7,313.6 L960.2,298.6 L960.7,298.9 L961.2,300.0 L961.7,302.6 L962.1,289.8 L962.6,290.7 L963.1,282.9 L963.6,280.8 L964.1,272.4 L964.7,208.6 L965.3,233.5" fill="none" stroke="#627eea" stroke-width="2" stroke-linejoin="round" stroke-linecap="round"/>
<g fill="none" stroke-width="8" stroke="#1a1a1a" transform="translate(789.24,447.9) scale(0.327,0.316)">
<ellipse cx="361.5" cy="276.25" rx="14.5" ry="16.25"/><path d="M379,256 V292 A16,16 0 0 1 349.1,300.5"/>
<path d="M394.8,243.5 V296.5"/>
<ellipse cx="423.5" cy="276.25" rx="14.5" ry="16.25"/><path d="M440,256 V296.5"/>
<path d="M475,266 C473,261.5 469,260 465,260 C459,260 455,263.5 455,268 C455,273 459,274.8 465,276.3 C471,277.8 476,280 476,285 C476,289.5 471.5,292.5 465,292.5 C459.5,292.5 455,290 453.5,285.5"/>
<path transform="translate(33.5,0)" d="M475,266 C473,261.5 469,260 465,260 C459,260 455,263.5 455,268 C455,273 459,274.8 465,276.3 C471,277.8 476,280 476,285 C476,289.5 471.5,292.5 465,292.5 C459.5,292.5 455,290 453.5,285.5"/>
<path d="M519.5,256 V296.5 M519.5,275 C519.5,265 526,260 534.5,260 C543,260 549,265 549,275 V296.5"/>
<ellipse cx="579" cy="276.25" rx="15" ry="16.25"/>
<ellipse cx="617.9" cy="276.25" rx="14.5" ry="16.25"/><path d="M635.2,244 V296.5"/>
<path d="M649.3,276.25 H680 A15.35,16.25 0 1 0 675.5,287.7"/>
</g>
</svg>
<div class="xl" style="left:94.2px">Jan '16</div><div class="xl" style="left:181.6px">Jul '16</div><div class="xl" style="left:269.9px">Jan '17</div><div class="xl" style="left:356.9px">Jul '17</div><div class="xl" style="left:445.3px">Jan '18</div><div class="xl" style="left:532.3px">Jul '18</div><div class="xl" style="left:620.7px">Jan '19</div><div class="xl" style="left:707.7px">Jul '19</div><div class="xl" style="left:796.1px">Jan '20</div><div class="xl" style="left:883.6px">Jul '20</div><div class="yl" style="top:109.2px">700k</div><div class="yl" style="top:160.5px">600k</div><div class="yl" style="top:211.9px">500k</div><div class="yl" style="top:263.2px">400k</div><div class="yl" style="top:314.6px">300k</div><div class="yl" style="top:365.9px">200k</div><div class="yl" style="top:417.2px">100k</div><div class="yl" style="top:468.5px">0</div><div class="yr" style="top:87.0px">$2000</div><div class="yr" style="top:125.0px">$800</div><div class="yr" style="top:153.5px">$400</div><div class="yr" style="top:210.5px">$100</div><div class="yr" style="top:231.5px">$60</div><div class="yr" style="top:278.0px">$20</div><div class="yr" style="top:315.5px">$8</div><div class="yr" style="top:344.0px">$4</div><div class="yr" style="top:401.5px">$1</div><div class="yr" style="top:423.0px">$0.6</div><div class="yr" style="top:468.5px">$0.2</div>
<div class="dot" style="left:748px;background:#627eea"></div><div class="lg" style="left:760px">Number of Active Addresses</div>
<div class="dot" style="left:927.8px;background:#7f7f7f"></div><div class="lg" style="left:939.5px;font-size:10.6px;letter-spacing:0">Price [USD]</div>
<div class="foot">© 2020 Glassnode. All Rights Reserved.</div>
</body></html>
